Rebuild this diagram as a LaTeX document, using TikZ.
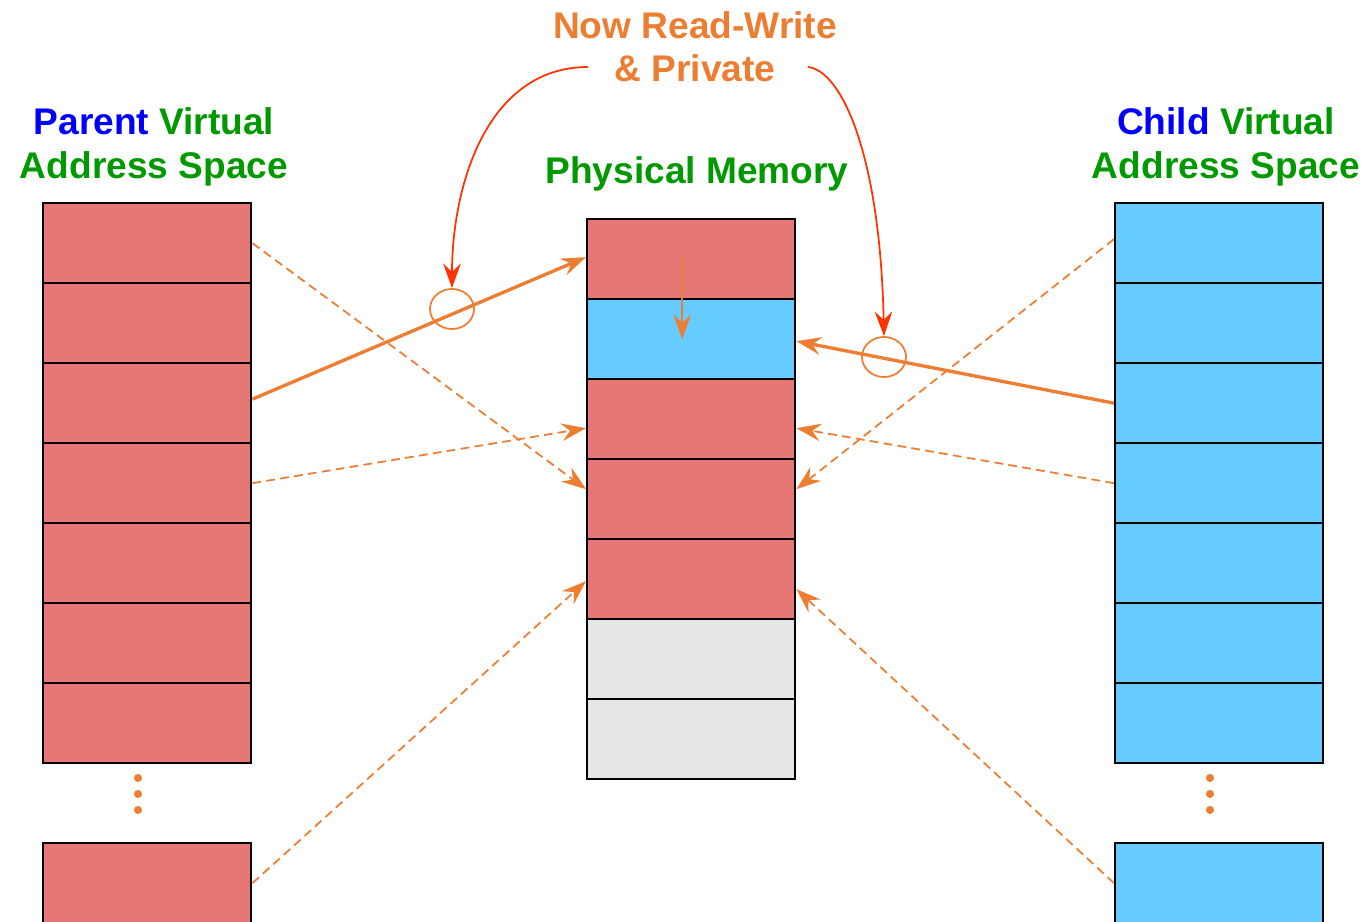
\documentclass[tikz,border=0pt]{standalone}
\usepackage{fontspec}
\setmainfont{Liberation Sans}
\usetikzlibrary{arrows.meta,calc,shapes.geometric}

\definecolor{pagered}{HTML}{E67774}
\definecolor{pageblue}{HTML}{66CCFF}
\definecolor{pagegray}{HTML}{E6E6E6}
\definecolor{linkorange}{HTML}{ED7D31}
\definecolor{notered}{HTML}{FF3300}
\definecolor{titlegreen}{HTML}{009900}

\begin{document}
\begin{tikzpicture}[x=0.01cm,y=-0.01cm,
    >={Stealth[length=7pt,width=5pt,inset=2.4pt]},
    page/.style={draw=black,line width=0.65pt,minimum width=2.08cm,
        minimum height=0.8cm,inner sep=0pt,anchor=north west},
    title/.style={font=\fontsize{10.55}{12.5}\selectfont\bfseries,
        align=center,text=titlegreen},
    link/.style={->,draw=linkorange,line width=0.95pt},
    shared/.style={->,draw=linkorange,line width=0.5pt,
        dash pattern=on 2.5pt off 1.5pt},
    ring/.style={ellipse,draw=linkorange,line width=0.5pt,
        minimum width=0.44cm,minimum height=0.40cm,inner sep=0pt},
    dot/.style={circle,fill=linkorange,inner sep=0pt,minimum size=2.3pt}]
\useasboundingbox (0,0) rectangle (1367,921);
\def\rowh{80}

\foreach \i in {1,...,7}{
    \node[page,fill=pagered] (P\i) at (42,{202+\rowh*(\i-1)}) {};
    \node[page,fill=pageblue] (C\i) at (1114,{202+\rowh*(\i-1)}) {};
}
\foreach \i/\c in {1/pagered,2/pageblue,3/pagered,4/pagered,
                   5/pagered,6/pagegray,7/pagegray}{
    \node[page,fill=\c] (M\i) at (586,{218+\rowh*(\i-1)}) {};
}
\node[page,fill=pagered] (PB) at (42,842) {};
\node[page,fill=pageblue] (CB) at (1114,842) {};

\foreach \y [count=\k] in {778,794,810}{
    \node[dot] (pd\k) at (138,\y) {};
    \node[dot] (cd\k) at (1210,\y) {};
}

\node[title] (ptitle) at (154,147)
    {\textcolor{blue}{Parent} Virtual\\Address Space};
\node[title] (ctitle) at (1226,147)
    {\textcolor{blue}{Child} Virtual\\Address Space};
\node[title] (mtitle) at (697,174) {Physical Memory};
\node[title,text=linkorange] (note1) at (695,25) {Now Read-Write};
\node[title,text=linkorange] (note2) at (695,68) {\& Private};

\draw[shared] (P1.east) -- ($(M4.west)+(0,-10)$);
\draw[shared] (P4.east) -- ($(M3.west)+(0,9)$);
\draw[shared] (PB.east) -- ($(M5.west)+(0,2)$);
\draw[shared] ($(C1.west)+(0,-4)$) -- ($(M4.east)+(0,-10)$);
\draw[shared] (C4.west) -- ($(M3.east)+(0,9)$);
\draw[shared] (CB.west) -- ($(M5.east)+(0,10)$);

\draw[link] ($(P3.east)+(0,-4)$) -- ($(M1.west)+(0,-2)$);
\draw[link] (C3.west) -- ($(M2.east)+(0,2)$);
\draw[->,draw=linkorange,line width=0.45pt]
    ($(M1.center)+(-9,-2)$) -- ($(M2.center)+(-9,0)$);

\node[ring] (ringL) at (452,309) {};
\node[ring] (ringR) at (884,357) {};

\draw[->,draw=notered,line width=0.5pt]
    ($(note2.west)+(-14,-1)$) to[out=180,in=90] (ringL.north);
\draw[->,draw=notered,line width=0.5pt]
    ($(note2.east)+(20,-1)$) .. controls (840,70) and (880,150) .. (ringR.north);
\end{tikzpicture}
\end{document}
